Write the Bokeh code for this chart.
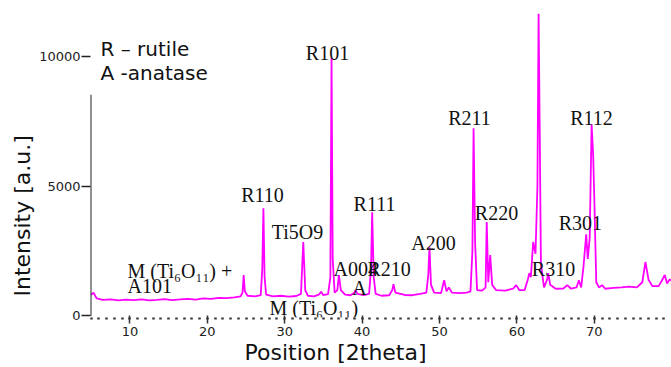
from bokeh.plotting import figure
from bokeh.models import ColumnDataSource, FixedTicker, Arrow, Range1d, Title
from bokeh.core.properties import value
from bokeh.embed import file_html
from bokeh.resources import INLINE

# ---- XRD pattern (2theta, intensity) ----
two_theta = [5.0, 5.3, 5.7, 6.5, 7.5, 8.5, 9.5, 10.5, 11.5, 12.5, 13.5, 14.5, 15.5, 16.5,
             17.5, 18.5, 19.5, 20.5, 21.5, 22.5, 23.5, 24.3, 24.55, 24.7, 24.85, 25.2,
             26.2, 26.9, 27.1, 27.25, 27.4, 27.6, 28.5, 29.5, 30.5, 31.5, 32.1, 32.4,
             32.65, 33.0, 33.8, 34.4, 34.7, 35.0, 35.6, 35.9, 36.05, 36.2, 36.45, 36.8,
             37.0, 37.25, 37.8, 38.5, 39.0, 39.15, 39.4, 40.2, 40.9, 41.15, 41.3, 41.5,
             41.75, 42.5, 43.5, 43.9, 44.05, 44.3, 45.5, 46.5, 47.5, 48.3, 48.55, 48.7,
             48.9, 49.3, 50.2, 50.6, 50.9, 51.2, 51.6, 52.5, 53.5, 54.0, 54.25, 54.4,
             54.6, 54.85, 55.5, 55.95, 56.1, 56.3, 56.55, 56.8, 57.3, 58.5, 59.5, 59.9,
             60.3, 61.0, 61.4, 61.6, 61.8, 62.1, 62.4, 62.65, 62.8, 62.95, 63.1, 63.5,
             63.9, 64.05, 64.3, 65.0, 66.0, 66.5, 67.0, 67.7, 68.0, 68.3, 68.6, 68.95,
             69.15, 69.4, 69.65, 69.85, 70.0, 70.25, 70.6, 71.0, 71.4, 72.5, 73.5, 74.5,
             75.5, 76.2, 76.6, 77.0, 77.5, 78.3, 78.7, 79.1, 79.4, 79.7, 80.0]
intensity = [820, 900, 680, 620, 640, 600, 630, 610, 640, 600, 620, 650, 610, 640,
             660, 630, 680, 660, 700, 690, 720, 760, 900, 1580, 950, 780,
             760, 800, 1800, 4150, 1500, 820, 760, 780, 750, 770, 850, 2850,
             1000, 780, 760, 820, 930, 800, 840, 1500, 9950, 2200, 900, 1000,
             1580, 1000, 820, 800, 900, 1000, 850, 800, 850, 1800, 4000, 1500,
             850, 780, 800, 1000, 1230, 900, 810, 800, 850, 900, 1600, 2650,
             1200, 900, 880, 1380, 950, 1100, 900, 880, 900, 950, 2500, 7230,
             2800, 1000, 980, 1100, 3620, 1300, 2350, 1200, 1000, 980, 1050, 1190,
             1000, 1000, 1400, 1650, 1500, 2850, 2400, 5000, 11650, 7000, 2000, 1100,
             1400, 1650, 1200, 1050, 1060, 1190, 1050, 1100, 1380, 1100, 1900, 3150,
             2200, 3000, 7380, 6200, 4500, 1300, 1100, 1190, 1050, 1080, 1100, 1130,
             1100, 1300, 2080, 1400, 1150, 1150, 1350, 1580, 1250, 1400, 1380]

x_ticks = [10, 20, 30, 40, 50, 60, 70]
x_minor = list(range(5, 81))
y_ticks = [0, 5000, 10000]

# ---- peak annotations ----
peak_labels_c = ["R101", "R110", "Ti5O9", "R111", "A200", "A", "R211", "R220",
                 "R310", "R301", "R112"]
peak_x_c = [35.53, 27.13, 31.65, 41.6, 49.22, 39.66, 53.88, 57.36, 64.73, 68.2, 69.64]
peak_y_c = [10116, 4644, 3218, 4335, 2832, 1098, 7611, 3950, 1830, 3565, 7611]

peak_labels_l = ["A004", "R210", "M (Ti\u2086O\u2081\u2081)", "M (Ti\u2086O\u2081\u2081) +", "A101"]
peak_x_l = [36.3, 40.7, 28.04, 9.69, 9.69]
peak_y_l = [1830, 1830, 289, 1753, 1175]

legend_lines = ["R \u2013 rutile", "A -anatase"]
legend_x = [6.2, 6.2]
legend_y = [10308, 9345]

NB = "\u00a0"

p = figure(width=671, height=367, output_backend="svg", toolbar_location=None,
           x_range=Range1d(4.91, 79.97), y_range=Range1d(-58, 12158),
           min_border_left=90, min_border_right=0, min_border_top=0,
           min_border_bottom=50)
p.outline_line_color = None
p.xgrid.visible = False
p.ygrid.visible = False
p.background_fill_color = "white"

p.line(two_theta, intensity, line_color="#ff00ff", line_width=1.8)

serif = value("Liberation Serif")
src_c = ColumnDataSource(dict(x=peak_x_c, y=peak_y_c, t=peak_labels_c))
p.text(x="x", y="y", text="t", source=src_c, text_font=serif,
       text_font_size="20px", text_align="center", text_baseline="alphabetic",
       text_color="#111111")
src_l = ColumnDataSource(dict(x=peak_x_l, y=peak_y_l, t=peak_labels_l))
p.text(x="x", y="y", text="t", source=src_l, text_font=serif,
       text_font_size="20px", text_align="left", text_baseline="alphabetic",
       text_color="#111111")
src_g = ColumnDataSource(dict(x=legend_x, y=legend_y, t=legend_lines))
p.text(x="x", y="y", text="t", source=src_g, text_font=value("DejaVu Sans"),
       text_font_size="20px", text_align="left", text_baseline="alphabetic",
       text_color="#111111")

# x axis: dotted minor ticks, no line
xa = p.xaxis[0]
xa.ticker = FixedTicker(ticks=x_ticks, minor_ticks=x_minor)
xa.axis_line_color = None
xa.major_tick_in = 2
xa.major_tick_out = 6
xa.major_tick_line_width = 1.5
xa.major_tick_line_color = "#333333"
xa.minor_tick_in = 0
xa.minor_tick_out = 2
xa.minor_tick_line_width = 2.5
xa.minor_tick_line_color = "#333333"
xa.major_label_text_font = "DejaVu Sans"
xa.major_label_text_font_size = "13px"
xa.major_label_text_color = "#222222"
xa.major_label_standoff = 3
xa.axis_label = "Position [2theta]" + NB * 13
xa.axis_label_text_font = "DejaVu Sans"
xa.axis_label_text_font_size = "22px"
xa.axis_label_text_font_style = "normal"
xa.axis_label_text_color = "#111111"
xa.axis_label_standoff = 1

ya = p.yaxis[0]
ya.ticker = FixedTicker(ticks=y_ticks, minor_ticks=[])
ya.axis_line_color = None
ya.major_tick_in = 0
ya.major_tick_out = 9
ya.major_tick_line_width = 1.5
ya.major_tick_line_color = "#222222"
ya.major_label_text_font = "DejaVu Sans"
ya.major_label_text_font_size = "13px"
ya.major_label_text_color = "#222222"
ya.major_label_standoff = 1

# y axis title, placed from the bottom of the frame
p.add_layout(Title(text="Intensity [a.u.]", align="left", offset=21,
                   text_font="DejaVu Sans", text_font_size="22px",
                   text_font_style="normal", text_color="#111111",
                   standoff=4), "left")

# partial y axis line
p.add_layout(Arrow(end=None, x_start=4.91, y_start=0, x_end=4.91, y_end=8530,
                   line_color="#222222", line_width=2))

open("out.html", "w").write(file_html(p, INLINE))
